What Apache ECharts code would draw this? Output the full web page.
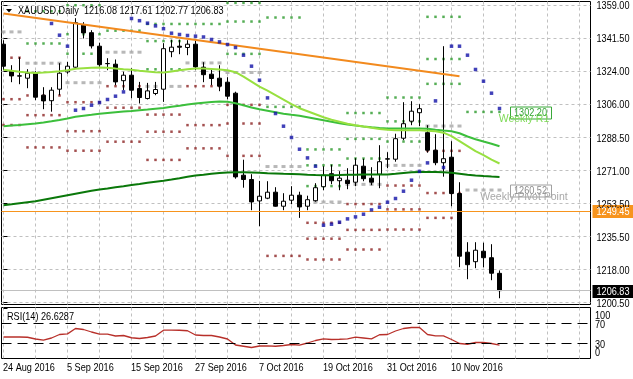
<!DOCTYPE html>
<html><head><meta charset="utf-8">
<script src="https://cdn.jsdelivr.net/npm/echarts@6/dist/echarts.min.js"></script>
<style>html,body{margin:0;padding:0;background:#fff}#c{width:633px;height:379px}</style>
</head><body><div id="c"></div>
<script>
// ---------- data ----------
const dates = ['24 Aug 2016','25 Aug 2016','26 Aug 2016','29 Aug 2016','30 Aug 2016','31 Aug 2016','1 Sep 2016','2 Sep 2016',
'5 Sep 2016','6 Sep 2016','7 Sep 2016','8 Sep 2016','9 Sep 2016','12 Sep 2016','13 Sep 2016','14 Sep 2016',
'15 Sep 2016','16 Sep 2016','19 Sep 2016','20 Sep 2016','21 Sep 2016','22 Sep 2016','23 Sep 2016','26 Sep 2016',
'27 Sep 2016','28 Sep 2016','29 Sep 2016','30 Sep 2016','3 Oct 2016','4 Oct 2016','5 Oct 2016','6 Oct 2016',
'7 Oct 2016','10 Oct 2016','11 Oct 2016','12 Oct 2016','13 Oct 2016','14 Oct 2016','17 Oct 2016','18 Oct 2016',
'19 Oct 2016','20 Oct 2016','21 Oct 2016','24 Oct 2016','25 Oct 2016','26 Oct 2016','27 Oct 2016','28 Oct 2016',
'31 Oct 2016','1 Nov 2016','2 Nov 2016','3 Nov 2016','4 Nov 2016','7 Nov 2016','8 Nov 2016','9 Nov 2016',
'10 Nov 2016','11 Nov 2016','14 Nov 2016','15 Nov 2016','16 Nov 2016','17 Nov 2016','18 Nov 2016'];

const openP = [1338.35,1323.94,1321.30,1320.20,1322.87,1311.13,1308.20,1314.33,
1323.57,1326.07,1348.49,1344.49,1337.28,1327.94,1327.67,1318.87,
1321.80,1314.71,1309.37,1312.04,1314.33,1334.35,1337.28,1336.59,
1338.35,1326.07,1322.34,1320.20,1318.07,1312.20,1268.44,1266.14,
1254.72,1256.16,1259.37,1251.89,1255.10,1257.77,1251.89,1254.83,
1262.30,1269.24,1265.50,1265.77,1264.70,1273.24,1266.84,1268.97,
1276.98,1276.98,1288.18,1297.25,1301.79,1291.12,1281.78,1275.11,
1278.04,1258.67,1227.34,1222.28,1227.88,1224.41,1216.08];
const highP = [1340.48,1327.14,1331.41,1325.01,1323.94,1315.40,1315.40,1328.21,
1328.90,1352.22,1350.09,1345.82,1339.15,1330.88,1330.18,1323.67,
1325.54,1318.23,1317.70,1318.23,1338.88,1340.75,1340.75,1340.48,
1340.22,1328.74,1325.27,1327.14,1320.74,1313.00,1276.71,1268.97,
1265.40,1265.23,1262.03,1258.83,1262.56,1259.63,1257.50,1264.17,
1273.24,1274.04,1270.57,1272.17,1277.51,1277.24,1272.71,1284.45,
1280.71,1290.58,1307.40,1307.93,1306.33,1295.12,1290.32,1337.28,
1286.58,1264.70,1232.68,1232.68,1232.41,1231.61,1217.61];
const lowP = [1324.47,1318.07,1317.00,1314.87,1308.46,1303.66,1302.33,1311.13,
1322.60,1325.54,1341.39,1336.05,1326.23,1324.47,1316.47,1313.80,
1309.53,1306.70,1308.84,1311.13,1307.56,1331.41,1333.01,1332.48,
1324.47,1318.07,1316.47,1313.27,1308.99,1266.57,1261.77,1249.76,
1241.22,1255.63,1251.63,1249.76,1252.96,1245.65,1249.76,1254.29,
1260.43,1263.63,1260.43,1260.97,1262.56,1265.23,1263.10,1261.50,
1272.17,1275.64,1287.12,1295.12,1294.59,1280.45,1273.77,1267.64,
1251.89,1219.34,1212.94,1218.81,1219.34,1212.40,1202.77];
const closeP = [1326.61,1321.43,1321.50,1322.87,1310.06,1308.09,1313.80,1322.87,
1326.61,1349.82,1344.38,1337.44,1327.41,1328.05,1318.23,1321.80,
1313.80,1309.90,1313.43,1314.17,1335.95,1336.75,1336.75,1338.35,
1326.23,1322.07,1320.04,1315.93,1310.60,1267.53,1266.14,1254.19,
1257.23,1259.37,1251.89,1254.56,1257.77,1251.52,1255.36,1261.77,
1268.44,1265.50,1266.84,1264.01,1273.77,1266.57,1264.70,1275.64,
1277.24,1287.92,1295.92,1302.59,1303.93,1281.78,1275.11,1277.24,
1258.67,1225.21,1220.68,1228.41,1224.41,1216.14,1206.83];

const maFast = [1324.74,1324.21,1323.67,1323.25,1323.03,1323.25,1323.57,1323.94,
1324.47,1325.27,1325.54,1325.81,1325.91,1325.81,1325.38,1325.01,
1324.74,1324.21,1323.78,1323.41,1323.25,1323.78,1324.47,1325.01,
1325.38,1325.38,1325.17,1324.85,1324.47,1323.41,1321.01,1318.34,
1315.67,1313.53,1311.13,1308.73,1306.33,1304.19,1302.59,1300.99,
1299.39,1298.06,1296.99,1295.92,1295.12,1294.43,1293.79,1293.15,
1292.72,1292.45,1292.45,1292.45,1292.45,1292.19,1291.92,1291.12,
1289.25,1286.58,1283.91,1281.25,1279.11,1276.71,1274.68];
const maMid = [1294.59,1294.96,1295.28,1295.65,1296.03,1296.56,1297.25,1297.95,
1298.70,1299.66,1300.19,1300.72,1301.26,1301.69,1302.06,1302.43,
1302.75,1303.13,1303.50,1303.93,1304.35,1304.99,1305.53,1306.17,
1306.70,1307.13,1307.56,1307.82,1307.66,1306.86,1305.80,1304.57,
1303.66,1302.86,1302.06,1301.26,1300.72,1300.19,1299.39,1298.59,
1297.79,1296.99,1296.19,1295.49,1294.96,1294.48,1294.05,1293.68,
1293.36,1293.36,1293.36,1293.36,1293.36,1293.25,1292.72,1292.29,
1291.92,1290.85,1289.09,1287.65,1286.42,1285.25,1283.91];
const maSlow = [1252.43,1252.96,1253.50,1254.03,1254.56,1255.36,1256.16,1256.96,
1257.77,1258.57,1259.37,1260.17,1260.81,1261.39,1262.03,1262.56,
1263.21,1263.80,1264.43,1264.97,1265.50,1266.14,1266.84,1267.64,
1268.28,1268.70,1269.24,1269.61,1269.88,1270.04,1270.04,1269.88,
1269.72,1269.50,1269.34,1269.18,1269.08,1268.97,1268.70,1268.54,
1268.44,1268.44,1268.54,1268.65,1268.70,1268.81,1268.81,1268.81,
1268.86,1269.24,1269.66,1270.04,1270.20,1270.20,1270.15,1270.04,
1269.77,1269.24,1268.70,1268.33,1268.01,1267.74,1267.53];
const sar = [null,null,null,null,null,null,1349.40,1343.15,
1337.28,1303.13,1304.03,1305.80,1307.24,1308.84,1310.60,1312.89,
1352.06,1350.89,1349.56,1348.11,1346.62,1344.22,1343.53,1342.99,
1342.62,1342.19,1340.86,1339.58,1338.19,1336.59,1332.48,1326.61,
1319.14,1309.69,1301.36,1294.59,1288.56,1282.31,1277.67,1273.24,
1241.75,1242.29,1243.36,1245.12,1246.19,1247.62,1249.92,1251.36,
1254.03,1256.00,1259.90,1265.77,1270.47,1275.01,1308.09,1272.55,
1337.28,1337.28,1332.48,1324.85,1318.60,1312.20,1304.03];
const rsi = [43,43,43,42.5,39,36.7,41,48,
49.3,60,58,53,48.7,48.7,45,46,
41.5,40,42,45,56.7,56.7,56.5,55.5,
47,46,46,43,39,27,24.5,22,
25,25.3,24.5,26,28,26.7,31,36,
39.3,38,38.5,39.3,42.7,41,39.3,47.5,
48,55,60,62,62,48,45.3,45.3,
38,30,28.5,32,32,30,26.63];

// trendline (bar index, price)
const trendIdx = [0, 57];
const trendVal = [1354.73, 1321.27];

// weekly pivots: first/last bar of each week
const weekStart = [0,3,8,13,18,23,28,33,38,43,48,53,58];
const weekEnd   = [2,7,12,17,22,27,32,37,42,47,52,57,62];
const pivR3 = [null,null,1359.15,null,1349.14,null,1360.40,null,1282.19,1301.62,1309.89,1352.95,null];
const pivR2 = [null,1355.94,1343.68,null,1340.01,null,1350.44,1352.58,1273.71,1287.83,1297.17,1330.44,null];
const pivR1 = [null,1338.72,1333.27,1345.56,1324.96,1349.14,1333.19,1304.90,1262.62,1277.33,1286.40,1317.19,1302.20];
const pivP  = [1344.91,1328.21,1317.80,1334.08,1315.83,1328.35,1323.23,1273.06,1254.13,1263.55,1273.69,1294.68,1260.52];
const pivS1 = [1331.14,1310.99,1307.39,1315.94,1300.78,1315.95,1305.98,1225.38,1243.04,1253.05,1262.92,1281.43,null];
const pivS2 = [1308.99,1300.48,1291.92,1304.46,1291.65,1295.16,1296.02,null,1234.55,1239.27,1250.21,1258.92,null];
const pivS3 = [1295.22,1283.26,1281.51,1286.32,1276.60,1282.76,1278.77,null,1223.45,1228.78,1239.45,1245.67,null];

const levelLine = 1249.45;
const bidPrice = 1206.83;
const weeklyR1 = 1302.20;
const weeklyPP = 1260.52;

const priceTicks = [1200.5,1218.1111,1235.7222,1253.3333,1270.9444,1288.5556,1306.1667,1323.7778,1341.3889,1359.0];
const priceTickLabels = ['1200.50','1218.00','1235.50','1253.50','1271.00','1288.50','1306.00','1324.00','1341.50','1359.00'];
const rsiTicks = [0,30,70,100];
const rsiLevels = [70,30];
const gridIdx = [0,4,8,12,16,20,24,28,32,36,40,44,48,52,56,60,64,68,72];
const dateLabelIdx = [0,8,16,24,32,40,48,56];

const headerText = 'XAUUSD,Daily  1216.08 1217.61 1202.77 1206.83';
const rsiText = 'RSI(14) 26.6287';

// ---------- chart ----------
const FONT = '"Liberation Sans",Arial,sans-serif';
const chart = echarts.init(document.getElementById('c'));
const idxMin = -0.25, idxMax = 73.375;

function pivotPts(levels) {
  const pts = [];
  levels.forEach((v, w) => {
    if (v == null) return;
    for (let i = weekStart[w]; i <= weekEnd[w]; i++) pts.push([i, v]);
  });
  return pts;
}
const series2 = a => a.map((v, i) => v == null ? null : [i, v]).filter(p => p);
const gridLine = {show: true, lineStyle: {color: '#c0c0c0', type: [3, 3], width: 1}};

chart.setOption({
  animation: false,
  textStyle: {fontFamily: FONT, fontSize: 11},
  grid: [
    {left: 1.5, top: 1.5, width: 589, height: 303, show: true, borderColor: '#000', borderWidth: 1, backgroundColor: 'transparent'},
    {left: 1.5, top: 307.5, width: 589, height: 51, show: true, borderColor: '#000', borderWidth: 1, backgroundColor: 'transparent'}
  ],
  xAxis: [
    {type: 'value', gridIndex: 0, min: idxMin, max: idxMax,
     axisLine: {show: false}, axisTick: {show: false, customValues: gridIdx},
     axisLabel: {show: false, customValues: gridIdx}, splitLine: gridLine},
    {type: 'value', gridIndex: 1, min: idxMin, max: idxMax,
     axisLine: {show: false},
     axisTick: {show: false, customValues: gridIdx},
     axisLabel: {show: false, customValues: gridIdx},
     splitLine: gridLine}
  ],
  yAxis: [
    {type: 'value', gridIndex: 0, position: 'right', min: 1199.44, max: 1361.13,
     axisLine: {show: false},
     axisTick: {show: true, customValues: priceTicks, length: 4, lineStyle: {color: '#000'}},
     axisLabel: {show: false, customValues: priceTicks},
     splitLine: gridLine},
    {type: 'value', gridIndex: 1, position: 'right', min: 0, max: 102,
     axisLine: {show: false},
     axisTick: {show: true, customValues: rsiTicks, length: 4, lineStyle: {color: '#000'}},
     axisLabel: {show: false, customValues: rsiTicks},
     splitLine: {show: false}}
  ],
  series: [
    {type: 'scatter', name: 'S', xAxisIndex: 0, yAxisIndex: 0, symbol: 'rect', symbolSize: 2.5, z: 1,
     itemStyle: {color: '#8c2323'}, data: [].concat(pivotPts(pivS1), pivotPts(pivS2), pivotPts(pivS3)), silent: true},
    {type: 'scatter', name: 'R', xAxisIndex: 0, yAxisIndex: 0, symbol: 'rect', symbolSize: 2.5, z: 1,
     itemStyle: {color: '#2c9a2c'}, data: [].concat(pivotPts(pivR1), pivotPts(pivR2), pivotPts(pivR3)), silent: true},
    {type: 'scatter', name: 'P', xAxisIndex: 0, yAxisIndex: 0, symbol: 'rect', symbolSize: [4, 3], z: 1,
     itemStyle: {color: '#a6a6a6'}, data: pivotPts(pivP), silent: true},
    {type: 'candlestick', xAxisIndex: 0, yAxisIndex: 0, barWidth: 4, z: 3,
     encode: {x: 0, y: [1, 2, 3, 4]},
     data: dates.map((d, i) => [i, openP[i], closeP[i], lowP[i], highP[i]]),
     itemStyle: {color: '#fff', color0: '#000', borderColor: '#000', borderColor0: '#000', borderWidth: 1},
     markLine: {silent: true, symbol: 'none', animation: false, label: {show: false},
       data: [
         {yAxis: levelLine, lineStyle: {color: '#f7941d', type: 'solid', width: 1}},
         {yAxis: bidPrice, lineStyle: {color: '#c0c0c0', type: 'solid', width: 1}}
       ]}},
    {type: 'line', xAxisIndex: 0, yAxisIndex: 0, data: series2(maSlow), showSymbol: false, z: 4,
     lineStyle: {color: '#0a780a', width: 2}, silent: true},
    {type: 'line', xAxisIndex: 0, yAxisIndex: 0, data: series2(maMid), showSymbol: false, z: 4,
     lineStyle: {color: '#3cbf3c', width: 2}, silent: true},
    {type: 'line', xAxisIndex: 0, yAxisIndex: 0, data: series2(maFast), showSymbol: false, z: 4,
     lineStyle: {color: '#98e040', width: 2}, silent: true},
    {type: 'line', xAxisIndex: 0, yAxisIndex: 0, data: trendIdx.map((x, k) => [x, trendVal[k]]), showSymbol: false, z: 5,
     lineStyle: {color: '#f28a1e', width: 2}, silent: true},
    {type: 'scatter', xAxisIndex: 0, yAxisIndex: 0, symbol: 'rect', symbolSize: 3.5, z: 6,
     itemStyle: {color: '#1212a8'}, data: series2(sar), silent: true},
    {type: 'line', xAxisIndex: 1, yAxisIndex: 1, data: series2(rsi), showSymbol: false, z: 3,
     lineStyle: {color: '#b8302a', width: 1.3}, silent: true,
     markLine: {silent: true, symbol: 'none', animation: false, label: {show: false},
       lineStyle: {color: '#000', type: [10, 6], width: 1},
       data: rsiLevels.map(v => ({yAxis: v}))}}
  ]
});

// ---------- text layer (narrow, MT4-like labels placed through the axes) ----------
const SX = 0.83;
const pxMain = (i, v) => chart.convertToPixel({gridIndex: 0}, [i, v]);
const pxRsi = (i, v) => chart.convertToPixel({gridIndex: 1}, [i, v]);
function txt(x, y, s, color, align, size, sx, fam) {
  return {type: 'text', x: x, y: y, scaleX: sx == null ? SX : sx, z: 100, silent: true,
    style: {text: s, fill: color, font: (size || 11) + 'px ' + (fam || FONT), textAlign: align || 'left', textVerticalAlign: 'middle'}};
}
function rect(x, y, w, h, fill, stroke) {
  return {type: 'rect', z: 99, silent: true, shape: {x: x, y: y, width: w, height: h},
    style: {fill: fill || 'transparent', stroke: stroke || null, lineWidth: 1}};
}
const g = [];
g.push({type: 'polygon', z: 100, silent: true, shape: {points: [[6, 9], [12, 9], [9, 12.5]]}, style: {fill: '#000'}});
g.push(txt(18, 11, headerText, '#000'));
g.push(txt(7, 316.5, rsiText, '#000'));
priceTicks.forEach((v, k) => g.push(txt(596.5, Math.round(pxMain(0, v)[1]) + 0.5, priceTickLabels[k], '#000')));
[[levelLine, '#f7941d'], [bidPrice, '#000']].forEach(([v, c]) => {
  const y = Math.round(pxMain(0, v)[1]) + 0.5;
  g.push(rect(592.5, y - 6.5, 41, 13, c, null));
  g.push(txt(596.5, y, v.toFixed(2), '#fff'));
});
rsiTicks.forEach(v => {
  const y = Math.round(pxRsi(0, v)[1]) + 0.5 + (v === 100 ? 6 : (v === 0 ? -6.5 : 0));
  g.push(txt(595, y, String(v), '#000'));
});
dateLabelIdx.forEach(i => g.push(txt(pxRsi(i, 0)[0] - 0.5, 367.5, dates[i], '#000')));
[[weeklyR1, '#35a535', '#3aa83a', 'Weekly R1', '#7ed957'], [weeklyPP, '#8c8c8c', '#a0a0a0', 'Weekly Pivot Point', '#a8a8a8']]
  .forEach(([v, tc, bc, name, nc]) => {
    const c = pxMain(65.9, v);
    const y = Math.round(c[1]) + 0.5;
    const cn = pxMain(65.06, v);
    g.push(txt(cn[0], y + 7, name, nc, 'center', 10.5, 1));
    g.push(rect(Math.round(c[0] - 21) + 0.5, y - 5.5, 41, 12, null, bc));
    g.push(txt(Math.round(c[0] - 17), y + 0.5, v.toFixed(2), tc));
  });
chart.setOption({graphic: g});
</script>
</body></html>
